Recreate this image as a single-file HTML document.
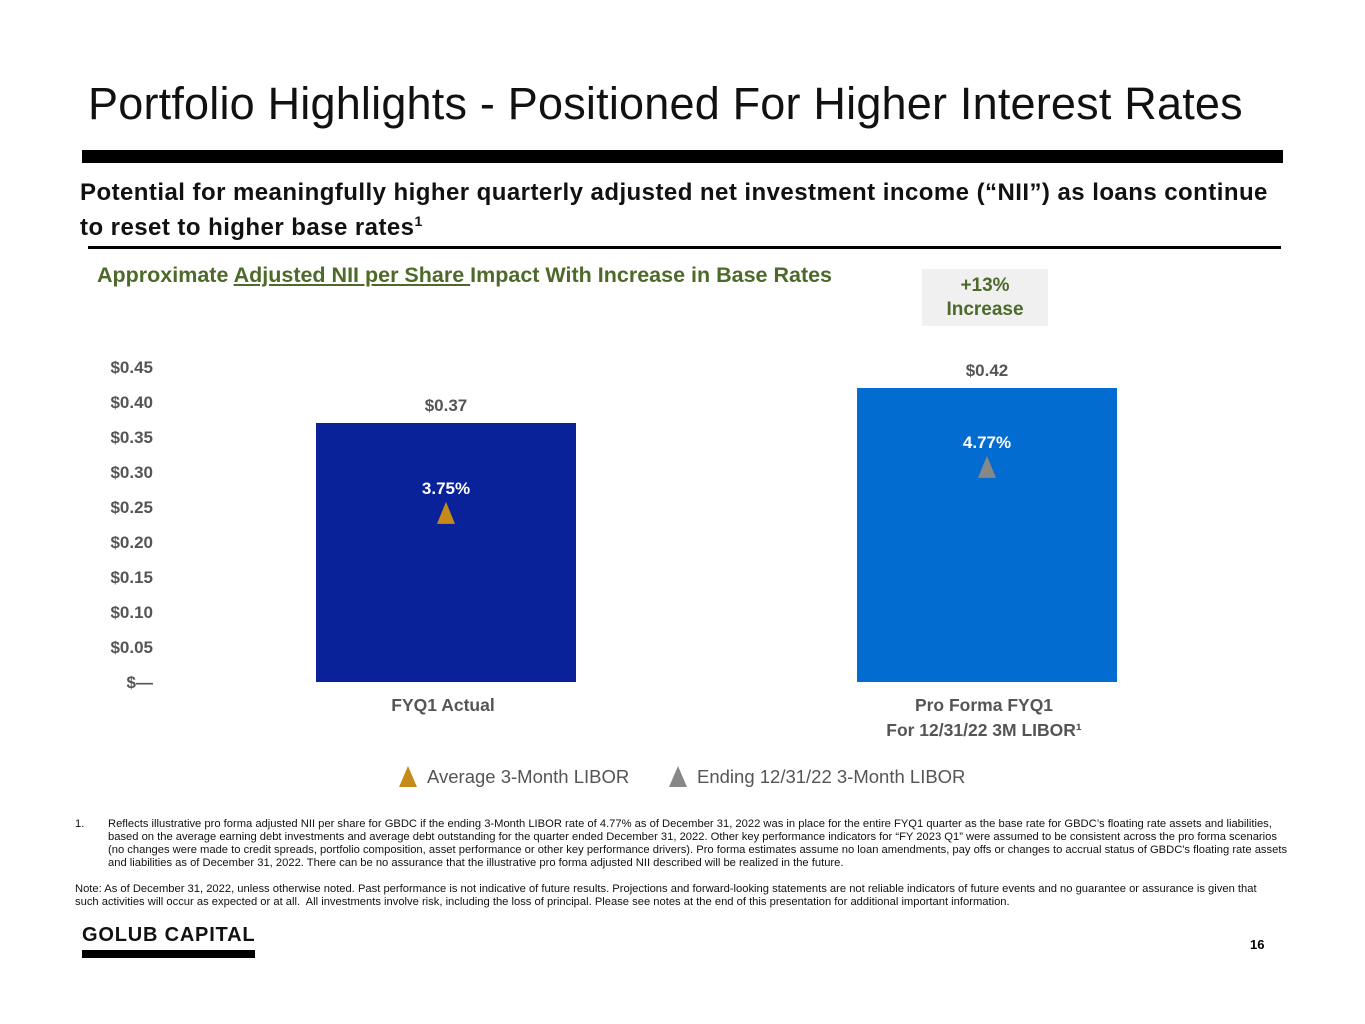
<!DOCTYPE html>
<html><head><meta charset="utf-8"><style>
body{margin:0;width:1365px;height:1024px;background:#fff;position:relative;overflow:hidden;font-family:"Liberation Sans",sans-serif;}
.abs{position:absolute;}
#title{left:88px;top:78px;font-size:45px;color:#111;white-space:nowrap;letter-spacing:0.2px;}
#bar-top{left:82px;top:150px;width:1201px;height:13px;background:#000;}
#sub{left:80px;top:178px;font-size:24px;font-weight:bold;color:#111;line-height:29px;white-space:nowrap;letter-spacing:0.45px;}
#rule{left:88px;top:246px;width:1193px;height:3px;background:#000;}
#ctitle{left:97px;top:263px;font-size:21.5px;font-weight:bold;color:#4e6a2a;white-space:nowrap;}
#inc{left:922px;top:269px;width:126px;height:57px;background:#f0f0f0;color:#4e6a2a;font-weight:bold;font-size:19px;text-align:center;line-height:24px;padding-top:5px;box-sizing:border-box;}
.fn{font-size:11.2px;color:#111;line-height:13px;}
#logo{left:82px;top:924px;font-size:20px;font-weight:bold;letter-spacing:0.8px;color:#111;}
#logobar{left:82px;top:950px;width:173px;height:8px;background:#000;}
#pg{left:1250px;top:937px;font-size:13px;font-weight:bold;}
</style></head><body>
<div id="title" class="abs">Portfolio Highlights - Positioned For Higher Interest Rates</div>
<div id="bar-top" class="abs"></div>
<div id="sub" class="abs">Potential for meaningfully higher quarterly adjusted net investment income (“NII”) as loans continue<br>to reset to higher base rates<sup style="font-size:14px">1</sup></div>
<div id="rule" class="abs"></div>
<div id="ctitle" class="abs">Approximate <u>Adjusted NII per Share </u>Impact With Increase in Base Rates</div>
<div id="inc" class="abs">+13%<br>Increase</div>
<svg class="abs" style="left:0;top:0" width="1365" height="800" id="chart"></svg>
<div class="abs fn" style="left:75px;top:818px">1.</div>
<div class="abs fn" style="left:108px;top:818px;width:1180px">Reflects illustrative pro forma adjusted NII per share for GBDC if the ending 3-Month LIBOR rate of 4.77% as of December 31, 2022 was in place for the entire FYQ1 quarter as the base rate for GBDC’s floating rate assets and liabilities, based on the average earning debt investments and average debt outstanding for the quarter ended December 31, 2022. Other key performance indicators for “FY 2023 Q1” were assumed to be consistent across the pro forma scenarios (no changes were made to credit spreads, portfolio composition, asset performance or other key performance drivers). Pro forma estimates assume no loan amendments, pay offs or changes to accrual status of GBDC's floating rate assets and liabilities as of December 31, 2022. There can be no assurance that the illustrative pro forma adjusted NII described will be realized in the future.</div>
<div class="abs fn" style="left:75px;top:883px;width:1205px">Note: As of December 31, 2022, unless otherwise noted. Past performance is not indicative of future results. Projections and forward-looking statements are not reliable indicators of future events and no guarantee or assurance is given that such activities will occur as expected or at all.&nbsp; All investments involve risk, including the loss of principal. Please see notes at the end of this presentation for additional important information.</div>
<div id="logo" class="abs">GOLUB CAPITAL</div>
<div id="logobar" class="abs"></div>
<div id="pg" class="abs">16</div>
<script>
const categories=["FYQ1 Actual","Pro Forma FYQ1|For 12/31/22 3M LIBOR¹"];
const nii=[0.37,0.42];
const libor=[3.75,4.77];
const ticks=[0,0.05,0.10,0.15,0.20,0.25,0.30,0.35,0.40,0.45];
const tickLabels=["$—","$0.05","$0.10","$0.15","$0.20","$0.25","$0.30","$0.35","$0.40","$0.45"];
const barColors=["#0a2299","#036cd0"];
const triColors=["#c68a1a","#888888"];
const NS="http://www.w3.org/2000/svg";
const svg=document.getElementById('chart');
const y0=682;
function y(v){return y0-v*700;}
function y2(v){return y0-v*45.1;}
function xc(i){return 446+i*541;}
function mk(t,a,txt){const e=document.createElementNS(NS,t);for(const k in a)e.setAttribute(k,a[k]);if(txt!==undefined)e.textContent=txt;svg.appendChild(e);return e;}
ticks.forEach((t,i)=>{
 const e=mk('text',{x:153,y:y(t)+6,'text-anchor':'end','font-size':17,'font-weight':'bold',fill:'#555','font-family':'Liberation Sans'},tickLabels[i]);
 
 
});
nii.forEach((v,i)=>{
 const b=mk('rect',{x:xc(i)-130,y:y(v),width:260,height:y0-y(v),fill:barColors[i]});
 
 
 const l=mk('text',{x:xc(i),y:y(v)-12,'text-anchor':'middle','font-size':17,'font-weight':'bold',fill:'#555','font-family':'Liberation Sans'},'$'+v.toFixed(2));
 
 
 const ty=y2(libor[i]);
 const tr=mk('polygon',{points:`${xc(i)},${ty-11} ${xc(i)-9},${ty+11} ${xc(i)+9},${ty+11}`,fill:triColors[i]});
 
 
 const tl=mk('text',{x:xc(i),y:ty-19,'text-anchor':'middle','font-size':17,'font-weight':'bold',fill:'#fff','font-family':'Liberation Sans'},libor[i].toFixed(2)+'%');
 
 
 categories[i].split('|').forEach((s,j)=>{
  const c=mk('text',{x:xc(i)-3,y:711+j*25,'text-anchor':'middle','font-size':17.5,'font-weight':'bold',fill:'#555','font-family':'Liberation Sans'},s);
  
  
 });
});
const legend=[["Average 3-Month LIBOR",408,427],["Ending 12/31/22 3-Month LIBOR",678,697]];
legend.forEach((L,i)=>{
 const p=mk('polygon',{points:`${L[1]},766 ${L[1]-9},787 ${L[1]+9},787`,fill:triColors[i]});
 
 
 const t=mk('text',{x:L[2],y:783,'font-size':18.5,fill:'#555','font-family':'Liberation Sans'},L[0]);
 
 
});
</script>
</body></html>
